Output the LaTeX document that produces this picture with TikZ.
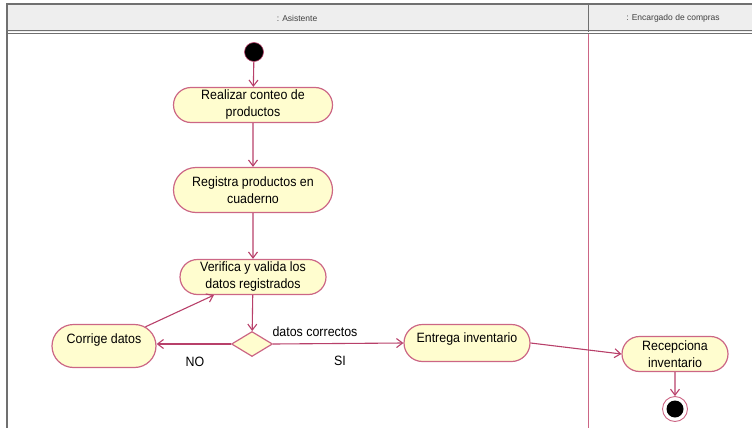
\documentclass[tikz,border=0pt]{standalone}
\usepackage{fontspec}
\setmainfont{Liberation Sans}
\newfontfamily\actfont[FakeStretch=0.92]{Liberation Sans}
\usetikzlibrary{shapes.misc,shapes.geometric,arrows.meta}

\definecolor{flowline}{HTML}{B8406A}
\definecolor{actborder}{HTML}{CC6685}
\definecolor{actfill}{HTML}{FFFDCF}
\definecolor{headfill}{HTML}{EEEEEE}
\definecolor{frameline}{HTML}{707070}

\tikzset{
  activity/.style={rounded rectangle, draw=actborder, fill=actfill, line width=1.2pt,
    align=center, font=\actfont\fontsize{13.5}{17}\selectfont, inner sep=2pt},
  decision/.style={diamond, draw=actborder, fill=actfill, line width=1.2pt,
    minimum width=41pt, minimum height=25pt, inner sep=0pt, aspect=1.6},
  flow/.style={draw=flowline, line width=1.1pt, -{Straight Barb[length=6pt,width=9pt]}},
  guard/.style={font=\actfont\fontsize{13.5}{17}\selectfont, inner sep=0pt},
  lanehead/.style={font=\fontsize{8.5}{10}\selectfont, text=black!75, inner sep=0pt},
}

\begin{document}
\begin{tikzpicture}[x=1pt,y=-1pt]
  \useasboundingbox (0,0) rectangle (752,428);

  % swimlane frame and headers
  \fill[headfill] (7,4) rectangle (760,32);
  \draw[frameline, line width=1.2pt] (7,440) -- (7,4) -- (760,4);
  \draw[frameline, line width=0.9pt] (7,30.5) -- (760,30.5);
  \draw[frameline, line width=0.9pt] (7,33.5) -- (760,33.5);
  \draw[frameline, line width=0.8pt] (588,4) -- (588,32);
  \draw[actborder, line width=0.9pt] (588,34) -- (588,440);
  \node[lanehead] (laneA) at (297,18) {: Asistente};
  \node[lanehead] (laneB) at (673,18) {: Encargado de compras};

  % activity nodes
  \node[circle, fill=black, draw=flowline, line width=0.6pt, minimum size=19pt, inner sep=0pt] (start) at (254,52) {};
  \node[activity, minimum width=163pt, minimum height=35pt] (conteo) at (253,105) {Realizar conteo de\\productos};
  \node[activity, minimum width=163pt, minimum height=45pt] (registra) at (253,190) {Registra productos en\\cuaderno};
  \node[activity, minimum width=150pt, minimum height=35pt] (verifica) at (253,277) {Verifica y valida los\\datos registrados};
  \node[decision] (dec) at (252,344) {};
  \node[activity, minimum width=108pt, minimum height=43pt, text depth=14pt] (corrige) at (104,346) {Corrige datos};
  \node[activity, minimum width=130pt, minimum height=37pt, text depth=11pt] (entrega) at (467,343) {Entrega inventario};
  \node[activity, minimum width=110pt, minimum height=35pt] (recep) at (675,354) {Recepciona\\inventario};
  \node[circle, draw=actborder, fill=white, line width=0.9pt, minimum size=25pt, inner sep=0pt] (fin) at (675,409) {};
  \node[circle, fill=black, minimum size=17pt, inner sep=0pt] (finin) at (fin) {};

  % control flows
  \draw[flow] (start) -- (conteo);
  \draw[flow] (conteo) -- (registra);
  \draw[flow] (registra) -- (verifica);
  \draw[flow] (verifica) -- (dec);
  \draw[flow] (dec.west) -- (corrige.east |- dec.west);
  \draw[flow] (corrige) -- (verifica);
  \draw[flow] (dec.east) -- (entrega.west);
  \draw[flow] (entrega.east) -- (recep.west);
  \draw[flow] (recep) -- (fin);

  % guards
  \node[guard] (gdatos) at (315,332) {datos correctos};
  \node[guard] (gsi) at (340,361) {SI};
  \node[guard] (gno) at (195,362) {NO};
\end{tikzpicture}
\end{document}
